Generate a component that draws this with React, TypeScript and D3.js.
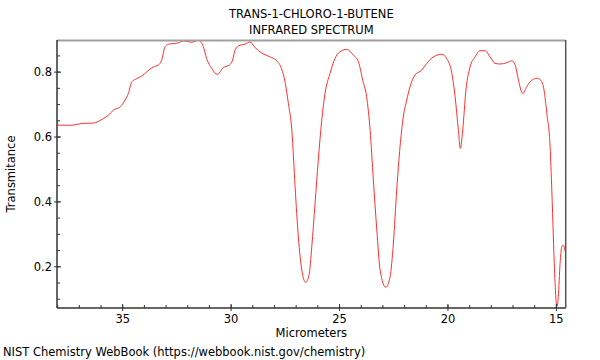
import { useEffect, useRef } from "react";
import * as d3 from "d3";

// wavelength (micrometers) and transmittance
const micrometers = [
  38.03, 37.43, 36.82, 36.36, 35.89, 35.66, 35.43, 35.12, 34.89, 34.74,
  34.58, 34.35, 34.12, 33.89, 33.59, 33.36, 33.2, 33.05, 32.9, 32.44,
  32.2, 31.82, 31.51, 31.28, 31.13, 30.89, 30.64, 30.36, 30.08, 29.93,
  29.82, 29.59, 29.36, 29.13, 28.9, 28.59, 28.21, 27.9, 27.67, 27.52,
  27.36, 27.2, 27.05, 26.9, 26.74, 26.56, 26.41, 26.28, 26.13, 25.98,
  25.82, 25.67, 25.44, 25.21, 24.98, 24.67, 24.36, 24.13, 23.93, 23.75,
  23.59, 23.44, 23.28, 23.13, 22.87, 22.67, 22.52, 22.36, 22.21, 22.06,
  21.9, 21.75, 21.52, 21.21, 20.98, 20.67, 20.29, 20.06, 19.82, 19.67,
  19.52, 19.43, 19.32, 19.17, 18.98, 18.75, 18.52, 18.29, 18.06, 17.83,
  17.6, 17.29, 17.06, 16.9, 16.75, 16.55, 16.37, 16.13, 15.9, 15.72,
  15.57, 15.44, 15.29, 15.21, 15.14, 15.06, 14.98, 14.91, 14.83, 14.75,
  14.68, 14.59,
];
const transmittance = [
  0.637, 0.636, 0.642, 0.643, 0.657, 0.667, 0.683, 0.693, 0.714, 0.734,
  0.77, 0.78, 0.788, 0.801, 0.816, 0.822, 0.837, 0.878, 0.886, 0.89,
  0.896, 0.892, 0.898, 0.878, 0.842, 0.811, 0.793, 0.814, 0.822, 0.837,
  0.868, 0.883, 0.886, 0.893, 0.876, 0.859, 0.847, 0.835, 0.81, 0.772,
  0.704, 0.621, 0.447, 0.292, 0.19, 0.152, 0.174, 0.262, 0.395, 0.529,
  0.652, 0.734, 0.796, 0.842, 0.863, 0.87, 0.852, 0.832, 0.775, 0.724,
  0.621, 0.467, 0.313, 0.19, 0.137, 0.169, 0.27, 0.44, 0.57, 0.662,
  0.714, 0.755, 0.791, 0.806, 0.827, 0.847, 0.855, 0.842, 0.796, 0.724,
  0.621, 0.565, 0.621, 0.745, 0.816, 0.847, 0.866, 0.866, 0.847, 0.827,
  0.825, 0.829, 0.835, 0.822, 0.775, 0.734, 0.755, 0.775, 0.781, 0.775,
  0.745, 0.673, 0.57, 0.436, 0.292, 0.149, 0.077, 0.108, 0.21, 0.262,
  0.267, 0.246,
];
const xTicks = [35, 30, 25, 20, 15];
const yTicks = [0.2, 0.4, 0.6, 0.8];

const titleLines = ["TRANS-1-CHLORO-1-BUTENE", "INFRARED SPECTRUM"];

export default function App() {
  const svgRef = useRef<SVGSVGElement | null>(null);

  useEffect(() => {
    if (!svgRef.current) return;
    const width = 600;
    const height = 360;
    const left = 57, right = 565.7, top = 40, bottom = 308;
    const font = "DejaVu Sans";
    const fs = 11.5;

    const svg = d3.select(svgRef.current);
    svg.selectAll("*").remove();
    svg.attr("width", width).attr("height", height);

    const x = d3.scaleLinear().domain([38.03, 14.57]).range([left, right]);
    const y = d3.scaleLinear().domain([0.073, 0.899]).range([bottom, top]);

    svg.append("rect").attr("width", width).attr("height", height).attr("fill", "#fff");

    titleLines.forEach((t, i) => {
      svg.append("text")
        .attr("x", (left + right) / 2)
        .attr("y", 18 + i * 16)
        .attr("text-anchor", "middle")
        .attr("font-family", font)
        .attr("font-size", fs)
        .attr("fill", "#000")
        .text(t);
    });

    svg.append("defs").append("clipPath").attr("id", "plot")
      .append("rect")
      .attr("x", left).attr("y", top)
      .attr("width", right - left).attr("height", bottom - top);

    const pts = micrometers.map((m, i) => [m, transmittance[i]] as [number, number]);
    const line = d3.line<[number, number]>()
      .x(d => x(d[0]))
      .y(d => y(d[1]))
      .curve(d3.curveMonotoneX);

    svg.append("path")
      .datum(pts)
      .attr("d", line)
      .attr("clip-path", "url(#plot)")
      .attr("fill", "none")
      .attr("stroke", "#ff3030")
      .attr("stroke-width", 1);

    // frame
    svg.append("line").attr("x1", left).attr("x2", right).attr("y1", top + 0.5).attr("y2", top + 0.5)
      .attr("stroke", "#a0a0a0").attr("stroke-width", 2);
    svg.append("line").attr("x1", right).attr("x2", right).attr("y1", top).attr("y2", bottom)
      .attr("stroke", "#555").attr("stroke-width", 1.5);
    svg.append("line").attr("x1", left).attr("x2", left).attr("y1", top).attr("y2", bottom)
      .attr("stroke", "#333").attr("stroke-width", 1.5);
    svg.append("line").attr("x1", left).attr("x2", right).attr("y1", bottom).attr("y2", bottom)
      .attr("stroke", "#333").attr("stroke-width", 1.5);

    // minor ticks every 1 micrometer, every 0.05 transmittance
    const xMinor = d3.range(15, 39, 1).filter(v => v <= 38.03 && v >= 14.57);
    svg.append("g").selectAll("line").data(xMinor).enter().append("line")
      .attr("x1", d => x(d)).attr("x2", d => x(d))
      .attr("y1", bottom).attr("y2", bottom - 3)
      .attr("stroke", "#333").attr("stroke-width", 1);
    svg.append("g").selectAll("line").data(xTicks).enter().append("line")
      .attr("x1", d => x(d)).attr("x2", d => x(d))
      .attr("y1", bottom - 4).attr("y2", bottom + 3)
      .attr("stroke", "#333").attr("stroke-width", 1);
    svg.append("g").selectAll("text").data(xTicks).enter().append("text")
      .attr("x", d => x(d)).attr("y", bottom + 15)
      .attr("text-anchor", "middle")
      .attr("font-family", font).attr("font-size", fs)
      .text(d => String(d));

    const yMinor = d3.range(0.1, 0.9, 0.05).map(v => Math.round(v * 100) / 100);
    svg.append("g").selectAll("line").data(yMinor).enter().append("line")
      .attr("x1", left).attr("x2", left + 3)
      .attr("y1", d => y(d)).attr("y2", d => y(d))
      .attr("stroke", "#333").attr("stroke-width", 1);
    svg.append("g").selectAll("line").data(yTicks).enter().append("line")
      .attr("x1", left - 3).attr("x2", left + 4)
      .attr("y1", d => y(d)).attr("y2", d => y(d))
      .attr("stroke", "#333").attr("stroke-width", 1);
    svg.append("g").selectAll("text").data(yTicks).enter().append("text")
      .attr("x", left - 5).attr("y", d => y(d) + 4.3)
      .attr("text-anchor", "end")
      .attr("font-family", font).attr("font-size", fs)
      .text(d => d.toFixed(1));

    svg.append("text")
      .attr("x", (left + right) / 2).attr("y", bottom + 29)
      .attr("text-anchor", "middle")
      .attr("font-family", font).attr("font-size", fs)
      .text("Micrometers");

    svg.append("text")
      .attr("transform", `translate(15,${(top + bottom) / 2}) rotate(-90)`)
      .attr("text-anchor", "middle")
      .attr("font-family", font).attr("font-size", fs)
      .text("Transmitance");

    svg.append("text")
      .attr("x", 3).attr("y", 356)
      .attr("font-family", font).attr("font-size", fs)
      .text("NIST Chemistry WebBook (https://webbook.nist.gov/chemistry)");
  }, []);

  return <svg ref={svgRef} style={{ position: "absolute", left: 0, top: 0 }} />;
}
